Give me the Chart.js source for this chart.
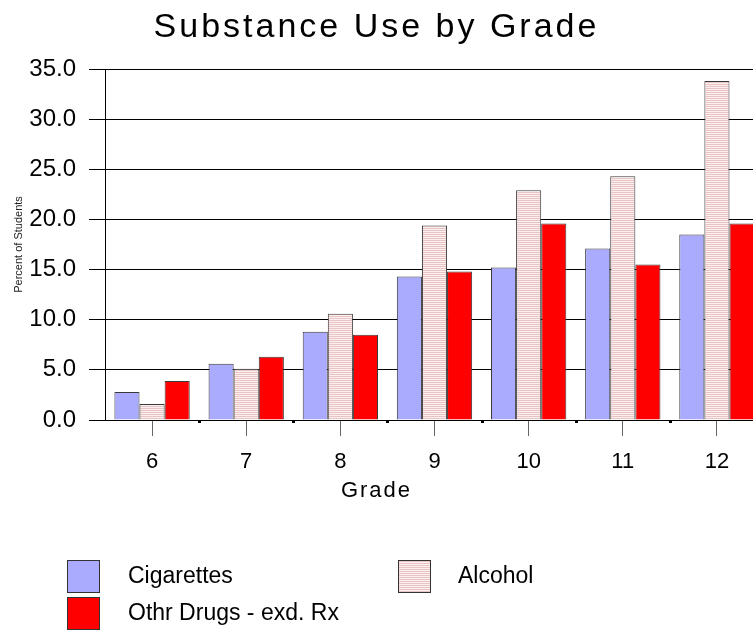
<!DOCTYPE html>
<html>
<head>
<meta charset="utf-8">
<title>Substance Use by Grade</title>
<script src="https://cdn.jsdelivr.net/npm/chart.js@4.4.1/dist/chart.umd.min.js"></script>
<style>
  html, body { margin: 0; padding: 0; background: #fff; }
  body { width: 753px; height: 630px; overflow: hidden; position: relative; font-family: "Liberation Sans", Arial, sans-serif; color: #000; }
  #wrap { position: absolute; left: 0; top: 0; width: 780px; height: 630px; }
  #title { position: absolute; left: 0; width: 753px; top: 8px; text-align: center; font-size: 34px; line-height: 34px; letter-spacing: 3px; }
  #xTitle { position: absolute; left: 0; width: 753px; top: 479px; text-align: center; font-size: 22px; line-height: 22px; letter-spacing: 2px; }
  .key { position: absolute; width: 31px; height: 31px; border: 1px solid #333; }
  .keyText { position: absolute; font-size: 23px; line-height: 23px; white-space: nowrap; }
</style>
</head>
<body>
<div id="wrap"><canvas id="chart" width="780" height="630"></canvas></div>
<div id="title">Substance Use by Grade</div>
<div id="xTitle">Grade</div>
<div id="legend"></div>

<script>
// Survey data: percent of students reporting use, by grade
const grades = ["6", "7", "8", "9", "10", "11", "12"];
const cigarettes = [2.8, 5.6, 8.8, 14.3, 15.2, 17.1, 18.5];
const alcohol = [1.6, 5.1, 10.6, 19.4, 22.9, 24.3, 33.8];
const otherDrugs = [3.9, 6.3, 8.5, 14.8, 19.6, 15.5, 19.6];
const seriesNames = ["Cigarettes", "Alcohol", "Othr Drugs - exd. Rx"];
const yTicks = [0, 5, 10, 15, 20, 25, 30, 35];

document.addEventListener("DOMContentLoaded", () => {
  // striped fill used for the alcohol bars
  const tile = document.createElement("canvas");
  tile.width = 4;
  tile.height = 2;
  const tctx = tile.getContext("2d");
  tctx.fillStyle = "#e9c4c4";
  tctx.fillRect(0, 0, 4, 1);
  tctx.fillStyle = "#fbefef";
  tctx.fillRect(0, 1, 4, 1);
  const stripes = tctx.createPattern(tile, "repeat");

  const fills = ["#aaaaff", stripes, "#ff0000"];
  const cssFills = ["#aaaaff", "repeating-linear-gradient(#e9c4c4 0 1px, #fbefef 1px 2px)", "#ff0000"];
  const values = [cigarettes, alcohol, otherDrugs];

  // small marks on the baseline between grade groups
  const boundaryDots = {
    id: "boundaryDots",
    afterDatasetsDraw(chart) {
      const x = chart.scales.x;
      const ctx = chart.ctx;
      ctx.save();
      ctx.fillStyle = "#000";
      for (let i = 1; i < grades.length; i++) {
        const px = (x.getPixelForTick(i - 1) + x.getPixelForTick(i)) / 2;
        ctx.fillRect(Math.round(px) - 1, x.top + 1, 3, 2);
      }
      ctx.restore();
    }
  };

  const font = { family: "'Liberation Sans', Arial, sans-serif" };

  new Chart(document.getElementById("chart").getContext("2d"), {
    type: "bar",
    data: {
      labels: grades,
      datasets: values.map((data, i) => ({
        label: seriesNames[i],
        data: data,
        backgroundColor: fills[i],
        borderColor: "#3a3a3a",
        borderWidth: 1,
        categoryPercentage: 0.8,
        barPercentage: 1.0
      }))
    },
    options: {
      responsive: false,
      animation: false,
      layout: { padding: { top: 69, right: 16, left: 0, bottom: 0 } },
      plugins: {
        legend: { display: false },
        title: { display: false },
        tooltip: { enabled: false }
      },
      scales: {
        x: {
          offset: true,
          grid: { offset: false, drawOnChartArea: false, tickLength: 16, color: "#666" },
          border: { display: true, color: "#000", width: 1 },
          ticks: { color: "#000", padding: 13, font: { ...font, size: 22 } },
          afterFit: scale => { scale.height = 210; }
        },
        y: {
          min: 0,
          max: 35,
          afterBuildTicks: scale => { scale.ticks = yTicks.map(v => ({ value: v })); },
          grid: { color: "#000", lineWidth: 1, tickLength: 16 },
          border: { display: true, color: "#000", width: 1 },
          ticks: { color: "#000", padding: 13, font: { ...font, size: 24 }, callback: v => v.toFixed(1) },
          title: { display: true, text: "Percent of Students", color: "#222", align: "center", padding: { top: 12, bottom: 0 }, font: { ...font, size: 11 } },
          afterFit: scale => { scale.width = 105; }
        }
      }
    },
    plugins: [boundaryDots]
  });

  // legend laid out in two columns below the chart
  const legend = document.getElementById("legend");
  const spots = [
    { box: [67, 560], text: [128, 564] },
    { box: [398, 560], text: [458, 564] },
    { box: [67, 597], text: [128, 601] }
  ];
  seriesNames.forEach((name, i) => {
    const box = document.createElement("div");
    box.className = "key";
    box.style.left = spots[i].box[0] + "px";
    box.style.top = spots[i].box[1] + "px";
    box.style.background = cssFills[i];
    legend.appendChild(box);
    const txt = document.createElement("div");
    txt.className = "keyText";
    txt.style.left = spots[i].text[0] + "px";
    txt.style.top = spots[i].text[1] + "px";
    txt.textContent = name;
    legend.appendChild(txt);
  });
});
</script>
</body>
</html>
